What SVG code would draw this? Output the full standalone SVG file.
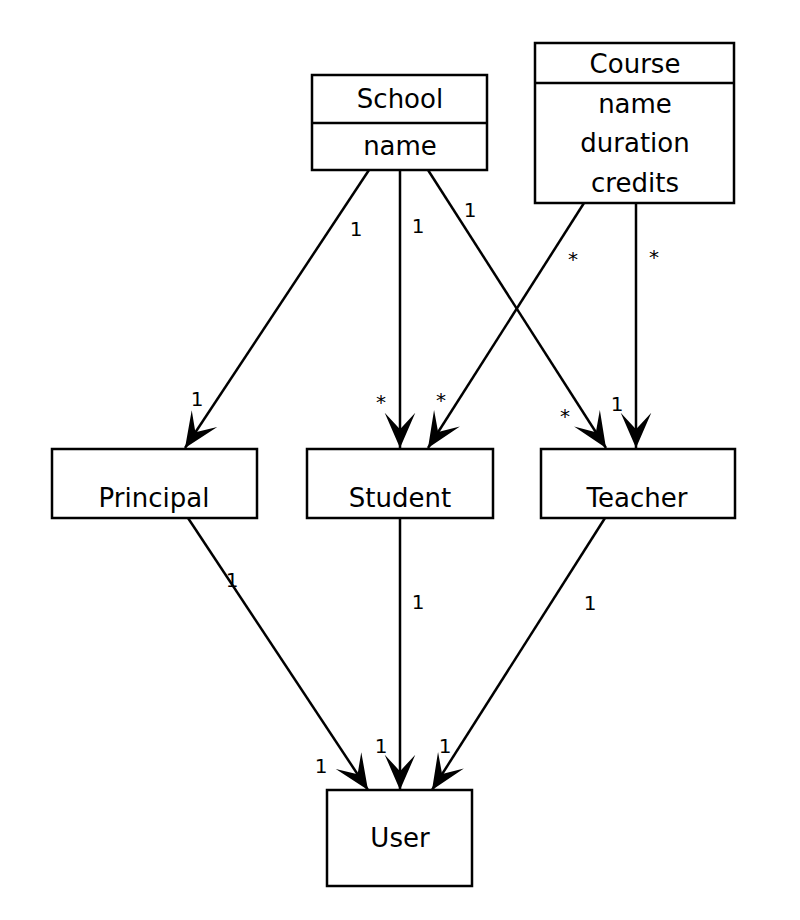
<svg xmlns="http://www.w3.org/2000/svg" width="800" height="920" viewBox="0 0 800 920">
<style>
.box{fill:#fff;stroke:#000;stroke-width:2.5}
.t{font-family:"DejaVu Sans",Verdana,sans-serif;font-size:26px;text-anchor:middle;fill:#000}
.l{font-family:"DejaVu Sans",Verdana,sans-serif;font-size:20px;text-anchor:middle;fill:#000}
.c{stroke:#000;stroke-width:2.5;fill:none;marker-end:url(#arr)}
</style>
<defs>
<marker id="arr" markerUnits="userSpaceOnUse" markerWidth="40" markerHeight="40" viewBox="-32 -16 34 32" refX="0" refY="0" orient="auto">
<path d="M0,0 L-30,-13 L-16,0 L-30,13 Z" fill="#000"/>
</marker>
</defs>
<rect width="800" height="920" fill="#fff"/>
<g id="connectors">
<line class="c" x1="369" y1="170" x2="185" y2="448"/>
<line class="c" x1="400" y1="170" x2="400" y2="448"/>
<line class="c" x1="428" y1="170" x2="606" y2="448"/>
<line class="c" x1="584" y1="203" x2="428" y2="448"/>
<line class="c" x1="636" y1="203" x2="636" y2="448"/>
<line class="c" x1="188" y1="518" x2="368" y2="790"/>
<line class="c" x1="400" y1="518" x2="400" y2="790"/>
<line class="c" x1="605" y1="518" x2="432" y2="790"/>
</g>
<g id="labels">
<text class="l" x="356" y="236">1</text>
<text class="l" x="197" y="406">1</text>
<text class="l" x="418" y="233">1</text>
<text class="l" x="381" y="409">*</text>
<text class="l" x="470" y="217">1</text>
<text class="l" x="565" y="423">*</text>
<text class="l" x="573" y="266">*</text>
<text class="l" x="441" y="407">*</text>
<text class="l" x="654" y="264">*</text>
<text class="l" x="617" y="411">1</text>
<text class="l" x="232" y="587">1</text>
<text class="l" x="321" y="773">1</text>
<text class="l" x="418" y="609">1</text>
<text class="l" x="381" y="753">1</text>
<text class="l" x="590" y="610">1</text>
<text class="l" x="445" y="753">1</text>
</g>
<g id="school">
<rect class="box" x="312" y="75" width="175" height="95"/>
<line x1="312" y1="123" x2="487" y2="123" stroke="#000" stroke-width="2.5"/>
<text class="t" x="400" y="108">School</text>
<text class="t" x="400" y="155">name</text>
</g>
<g id="course">
<rect class="box" x="535" y="43" width="199" height="160"/>
<line x1="535" y1="83" x2="734" y2="83" stroke="#000" stroke-width="2.5"/>
<text class="t" x="635" y="73">Course</text>
<text class="t" x="635" y="113">name</text>
<text class="t" x="635" y="152">duration</text>
<text class="t" x="635" y="192">credits</text>
</g>
<g id="principal">
<rect class="box" x="52" y="449" width="205" height="69"/>
<text class="t" x="154" y="507">Principal</text>
</g>
<g id="student">
<rect class="box" x="307" y="449" width="186" height="69"/>
<text class="t" x="400" y="507">Student</text>
</g>
<g id="teacher">
<rect class="box" x="541" y="449" width="194" height="69"/>
<text class="t" x="637" y="507">Teacher</text>
</g>
<g id="user">
<rect class="box" x="327" y="790" width="145" height="96"/>
<text class="t" x="400" y="847">User</text>
</g>
</svg>
